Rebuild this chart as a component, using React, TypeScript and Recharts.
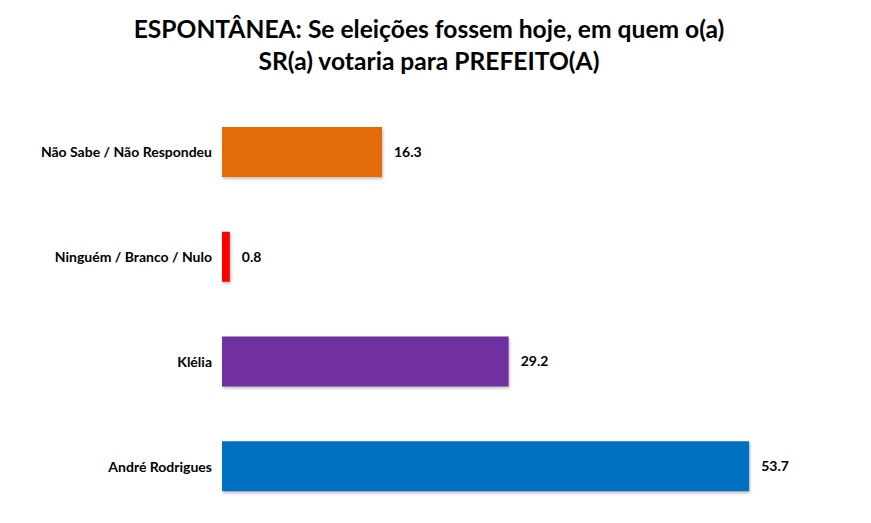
import React from "react";
import { BarChart, Bar, XAxis, YAxis, Cell, LabelList } from "recharts";

const categories = [
  "Não Sabe / Não Respondeu",
  "Ninguém / Branco / Nulo",
  "Klélia",
  "André Rodrigues",
];
const values = [16.3, 0.8, 29.2, 53.7];
const colors = ["#E36C0A", "#FF0000", "#7030A0", "#0070C0"];
const titleLines = [
  "ESPONTÂNEA: Se eleições fossem hoje, em quem o(a)",
  "SR(a) votaria para PREFEITO(A)",
];

const data = categories.map((name, i) => ({ name, value: values[i] }));

const FONT = "Lato, 'Open Sans', sans-serif";

export default function App() {
  return (
    <div
      style={{
        position: "absolute",
        left: 0,
        top: 0,
        width: 871,
        height: 523,
        background: "#fff",
        fontFamily: FONT,
      }}
    >
      <div
        style={{
          position: "absolute",
          left: 0,
          top: 13,
          width: 858,
          textAlign: "center",
          fontWeight: 700,
          fontSize: 24.6,
          lineHeight: "32px",
          color: "#000",
        }}
      >
        {titleLines.map((t) => (
          <div key={t}>{t}</div>
        ))}
      </div>
      <div style={{ position: "absolute", left: 0, top: 0 }}>
        <BarChart
          width={871}
          height={523}
          data={data}
          layout="vertical"
          margin={{ top: 100, right: 60, bottom: 4, left: 0 }}
          barCategoryGap={55}
        >
          <XAxis type="number" domain={[0, 60]} hide />
          <YAxis
            type="category"
            dataKey="name"
            width={222}
            axisLine={false}
            tickLine={false}
            tickSize={0}
            tickMargin={10}
            tick={{ fill: "#000", fontSize: 14, fontWeight: 700, fontFamily: FONT }}
            interval={0}
          />
          <Bar
            dataKey="value"
            isAnimationActive={false}
            barSize={50}
            style={{ filter: "drop-shadow(1px 2px 1.5px rgba(0,0,0,0.25))" }}
          >
            {data.map((d, i) => (
              <Cell key={d.name} fill={colors[i]} />
            ))}
            <LabelList
              dataKey="value"
              position="right"
              offset={12}
              formatter={(v: number) => v.toFixed(1)}
              style={{ fill: "#000", fontSize: 14, fontWeight: 700, fontFamily: FONT }}
            />
          </Bar>
        </BarChart>
      </div>
    </div>
  );
}
